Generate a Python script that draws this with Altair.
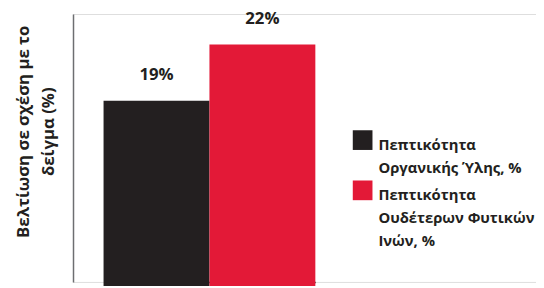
import altair as alt
import pandas as pd

categories = ["Πεπτικότητα|Οργανικής Ύλης, %", "Πεπτικότητα|Ουδέτερων Φυτικών|Ινών, %"]
values = [19, 22]
colors = ["#231f20", "#e31937"]
y_title = ["Βελτίωση σε σχέση με το", "δείγμα (%)"]
y_domain = [9.32, 23.63]

df = pd.DataFrame({"cat": categories, "value": values})

FONT = "Open Sans"
TXT = "#231f20"

x_enc = alt.X(
    "cat:N",
    sort=categories,
    scale=alt.Scale(paddingInner=0, paddingOuter=0, range=[31, 246]),
    axis=alt.Axis(title=None, labels=False, ticks=False, grid=False,
                  domainColor="#4d4d4f", domainWidth=1.5),
)

bars = alt.Chart(df).mark_bar().encode(
    x=x_enc,
    y=alt.Y(
        "value:Q",
        scale=alt.Scale(domain=y_domain, zero=False, nice=False),
        axis=alt.Axis(title=y_title, labels=False, ticks=False, grid=False,
                      domainColor="#6d6e71", domainWidth=1.5,
                      titleFont=FONT, titleFontSize=17, titleFontWeight="bold",
                      titleColor=TXT, titleLineHeight=25, titlePadding=16,
                      titleY=119),
    ),
    color=alt.Color(
        "cat:N",
        sort=categories,
        scale=alt.Scale(domain=categories, range=colors),
        legend=alt.Legend(
            title=None, orient="none", legendX=284, legendY=118,
            symbolType="square", symbolSize=400, symbolStrokeWidth=0,
            symbolOpacity=1,
            labelFont=FONT, labelFontSize=15, labelFontWeight="bold",
            labelColor=TXT, labelBaseline="top", labelOffset=6,
            labelLimit=400, rowPadding=5,
            labelExpr="split(datum.label, '|')",
        ),
    ),
)

labels = alt.Chart(df).transform_calculate(
    lab="datum.value + '%'"
).mark_text(dy=-26, font=FONT, fontSize=17, fontWeight="bold", color=TXT,
            baseline="middle").encode(
    x=alt.X("cat:N", sort=categories),
    y=alt.Y("value:Q"),
    text="lab:N",
)

chart = alt.layer(bars, labels).properties(
    width=470, height=272,
    autosize=alt.AutoSizeParams(type="none"),
    padding={"top": 4, "left": 66, "right": 0, "bottom": 2},
).configure_view(stroke=None).configure(
    style={"guide-label": {"dy": -2, "lineHeight": 23}}
)

chart.save("out.html", embed_options={"renderer": "svg", "actions": False})
